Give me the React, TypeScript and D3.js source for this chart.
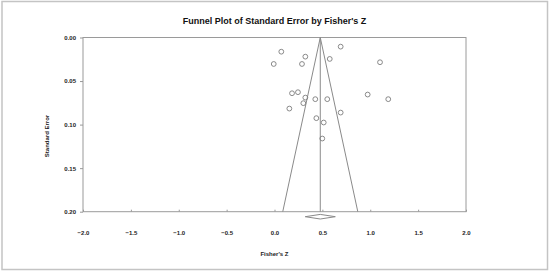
import React, { useRef, useEffect } from "react";
import * as d3 from "d3";

// study points: Fisher's Z and its standard error
const fisherZ = [
  0.071, -0.008, 0.322, 0.287, 0.577, 0.691, 1.102, 0.183, 0.245, 0.322,
  0.301, 0.426, 0.551, 0.973, 1.188, 0.155, 0.691, 0.437, 0.514, 0.499,
];
const stdErr = [
  0.0163, 0.0304, 0.022, 0.0304, 0.0246, 0.0105, 0.0284, 0.064, 0.0628, 0.069,
  0.0754, 0.0708, 0.0708, 0.0655, 0.0708, 0.0816, 0.0862, 0.0926, 0.0976, 0.116,
];

// summary effect and its confidence interval
const summary = [0.478];
const summaryCI = [0.321, 0.635];

const xTicks = [-2.0, -1.5, -1.0, -0.5, 0.0, 0.5, 1.0, 1.5, 2.0];
const yTicks = [0.0, 0.05, 0.1, 0.15, 0.2];

const FONT = "'Liberation Sans', Arial, sans-serif";

const App: React.FC = () => {
  const ref = useRef<SVGSVGElement | null>(null);

  useEffect(() => {
    const svg = d3.select(ref.current);
    svg.selectAll("*").remove();

    const W = 550;
    const H = 272;
    const margin = { top: 37.5, right: 84, bottom: 60.3, left: 83 };
    const width = W - margin.left - margin.right;
    const height = H - margin.top - margin.bottom;

    const x = d3.scaleLinear().domain([-2, 2]).range([0, width]);
    const y = d3.scaleLinear().domain([0, 0.2]).range([0, height]);

    // outer frame
    svg
      .append("rect")
      .attr("x", 2)
      .attr("y", 1.5)
      .attr("width", W - 4.5)
      .attr("height", H - 4)
      .attr("fill", "none")
      .attr("stroke", "#c4c4c4")
      .attr("stroke-width", 1.5);

    svg
      .append("text")
      .attr("x", margin.left + width / 2)
      .attr("y", 24)
      .attr("text-anchor", "middle")
      .attr("font-family", FONT)
      .attr("font-weight", "bold")
      .attr("font-size", 9)
      .attr("fill", "#111")
      .text("Funnel Plot of Standard Error by Fisher's Z");

    const g = svg
      .append("g")
      .attr("transform", `translate(${margin.left}, ${margin.top})`);

    const xAxis = g
      .append("g")
      .attr("transform", `translate(0, ${height})`)
      .call(d3.axisBottom(x).tickValues(xTicks).tickSize(-2).tickPadding(19).tickFormat(d3.format(".1f")));
    const yAxis = g
      .append("g")
      .call(d3.axisLeft(y).tickValues(yTicks).tickSize(3).tickPadding(4).tickFormat(d3.format(".2f")));

    [xAxis, yAxis].forEach(a => {
      a.select(".domain").remove();
      a.selectAll("line").attr("stroke", "#999");
      a.selectAll("text")
        .attr("font-family", FONT)
        .attr("font-weight", "bold")
        .attr("font-size", 6)
        .attr("fill", "#222");
    });

    // plot border
    g.append("rect")
      .attr("width", width)
      .attr("height", height)
      .attr("fill", "none")
      .attr("stroke", "#9a9a9a")
      .attr("stroke-width", 1);

    const mean = summary[0];
    const seMax = y.domain()[1];

    // funnel
    g.append("path")
      .attr(
        "d",
        d3.line()([
          [x(mean - 1.96 * seMax), y(seMax)],
          [x(mean), y(0)],
          [x(mean + 1.96 * seMax), y(seMax)],
        ])
      )
      .attr("fill", "none")
      .attr("stroke", "#8a8a8a")
      .attr("stroke-width", 1);

    g.append("line")
      .attr("x1", x(mean))
      .attr("x2", x(mean))
      .attr("y1", y(0))
      .attr("y2", y(seMax))
      .attr("stroke", "#8a8a8a")
      .attr("stroke-width", 1);

    // summary diamond below the axis
    const dy = y(seMax) + 5;
    g.append("path")
      .attr(
        "d",
        d3.line()([
          [x(summaryCI[0]), dy],
          [x(mean), dy - 2.3],
          [x(summaryCI[1]), dy],
          [x(mean), dy + 2.3],
        ]) + "Z"
      )
      .attr("fill", "#fff")
      .attr("stroke", "#8a8a8a")
      .attr("stroke-width", 1);

    g.selectAll(".pt")
      .data(fisherZ.map((z, i) => ({ z, se: stdErr[i] })))
      .enter()
      .append("circle")
      .attr("class", "pt")
      .attr("cx", d => x(d.z))
      .attr("cy", d => y(d.se))
      .attr("r", 2.4)
      .attr("fill", "none")
      .attr("stroke", "#7d7d7d")
      .attr("stroke-width", 0.9);

    svg
      .append("text")
      .attr("x", margin.left + width / 2)
      .attr("y", 256)
      .attr("text-anchor", "middle")
      .attr("font-family", FONT)
      .attr("font-weight", "bold")
      .attr("font-size", 6)
      .attr("fill", "#222")
      .text("Fisher's Z");

    svg
      .append("text")
      .attr("transform", "translate(48.5, 136) rotate(-90)")
      .attr("text-anchor", "middle")
      .attr("font-family", FONT)
      .attr("font-weight", "bold")
      .attr("font-size", 6)
      .attr("fill", "#222")
      .text("Standard Error");
  }, []);

  return (
    <svg
      width="550"
      height="272"
      ref={ref}
      style={{ position: "absolute", left: 0, top: 0, background: "#fff" }}
    />
  );
};

export default App;
